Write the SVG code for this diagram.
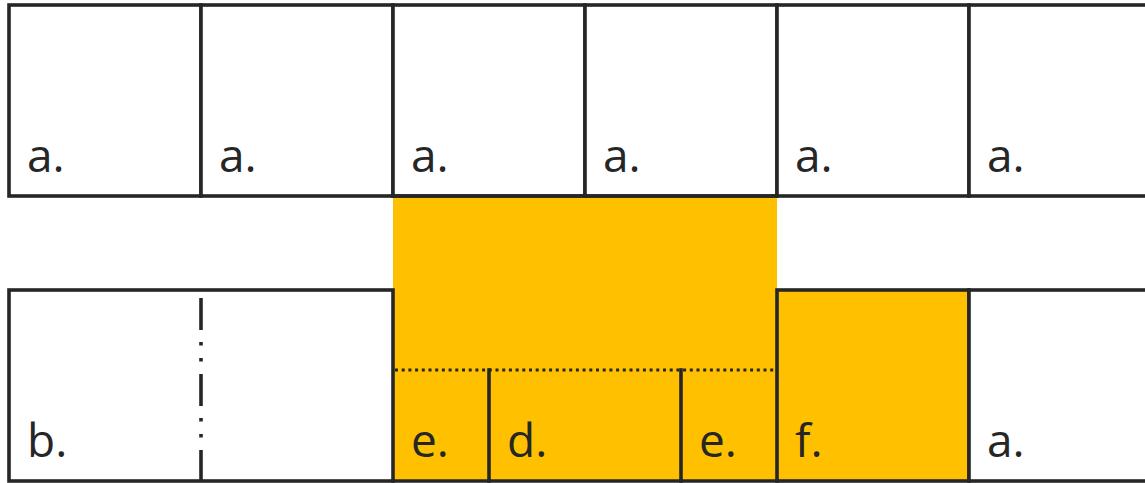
<svg xmlns="http://www.w3.org/2000/svg" width="1145" height="483" viewBox="0 0 1145 483">
<style>
.ln{fill:none;stroke:#262626;stroke-width:3.6;stroke-linecap:square}
.cell{fill:#fff;stroke:#262626;stroke-width:3.6}
.hl{fill:#FFC000}
.lbl{font-family:"Open Sans","Liberation Sans",sans-serif;font-size:46px;fill:#262626}
</style>
<rect x="0" y="0" width="1145" height="483" fill="#fff"/>
<g id="highlight">
<rect class="hl" x="393" y="196" width="384" height="285"/>
<rect class="hl" x="777" y="290" width="192" height="191"/>
</g>
<g id="top-row">
<g id="a1"><rect class="cell" x="9" y="5" width="192" height="191"/><text class="lbl" x="27" y="172">a.</text></g>
<g id="a2"><rect class="cell" x="201" y="5" width="192" height="191"/><text class="lbl" x="219" y="172">a.</text></g>
<g id="a3"><rect class="cell" x="393" y="5" width="192" height="191"/><text class="lbl" x="411" y="172">a.</text></g>
<g id="a4"><rect class="cell" x="585" y="5" width="192" height="191"/><text class="lbl" x="603" y="172">a.</text></g>
<g id="a5"><rect class="cell" x="777" y="5" width="192" height="191"/><text class="lbl" x="795" y="172">a.</text></g>
<g id="a6"><rect class="cell" x="969" y="5" width="200" height="191"/><text class="lbl" x="987" y="172">a.</text></g>
</g>
<g id="bottom-row">
<g id="b"><rect class="cell" x="9" y="290" width="384" height="191"/><text class="lbl" x="27" y="457">b.</text></g>
<g id="e1"><text class="lbl" x="411" y="457">e.</text></g>
<g id="d"><text class="lbl" x="507" y="457">d.</text></g>
<g id="e2"><text class="lbl" x="699" y="457">e.</text></g>
<g id="f"><rect x="777" y="290" width="192" height="191" fill="none" stroke="#262626" stroke-width="3.6"/><text class="lbl" x="795" y="457">f.</text></g>
<g id="a7"><rect class="cell" x="969" y="290" width="200" height="191"/><text class="lbl" x="987" y="457">a.</text></g>
</g>
<g id="connectors">
<line x1="201" y1="298" x2="201" y2="481" stroke="#262626" stroke-width="3.6" stroke-dasharray="32 12 3.5 12.5 3.5 12.5"/>
<line x1="395" y1="370" x2="777" y2="370" stroke="#262626" stroke-width="3" stroke-dasharray="3 3.7"/>
<line class="ln" x1="489" y1="370" x2="489" y2="481"/>
<line class="ln" x1="681" y1="370" x2="681" y2="481"/>
<line class="ln" x1="393" y1="481" x2="777" y2="481"/>
<line class="ln" x1="393" y1="196" x2="777" y2="196"/>
</g>
</svg>
